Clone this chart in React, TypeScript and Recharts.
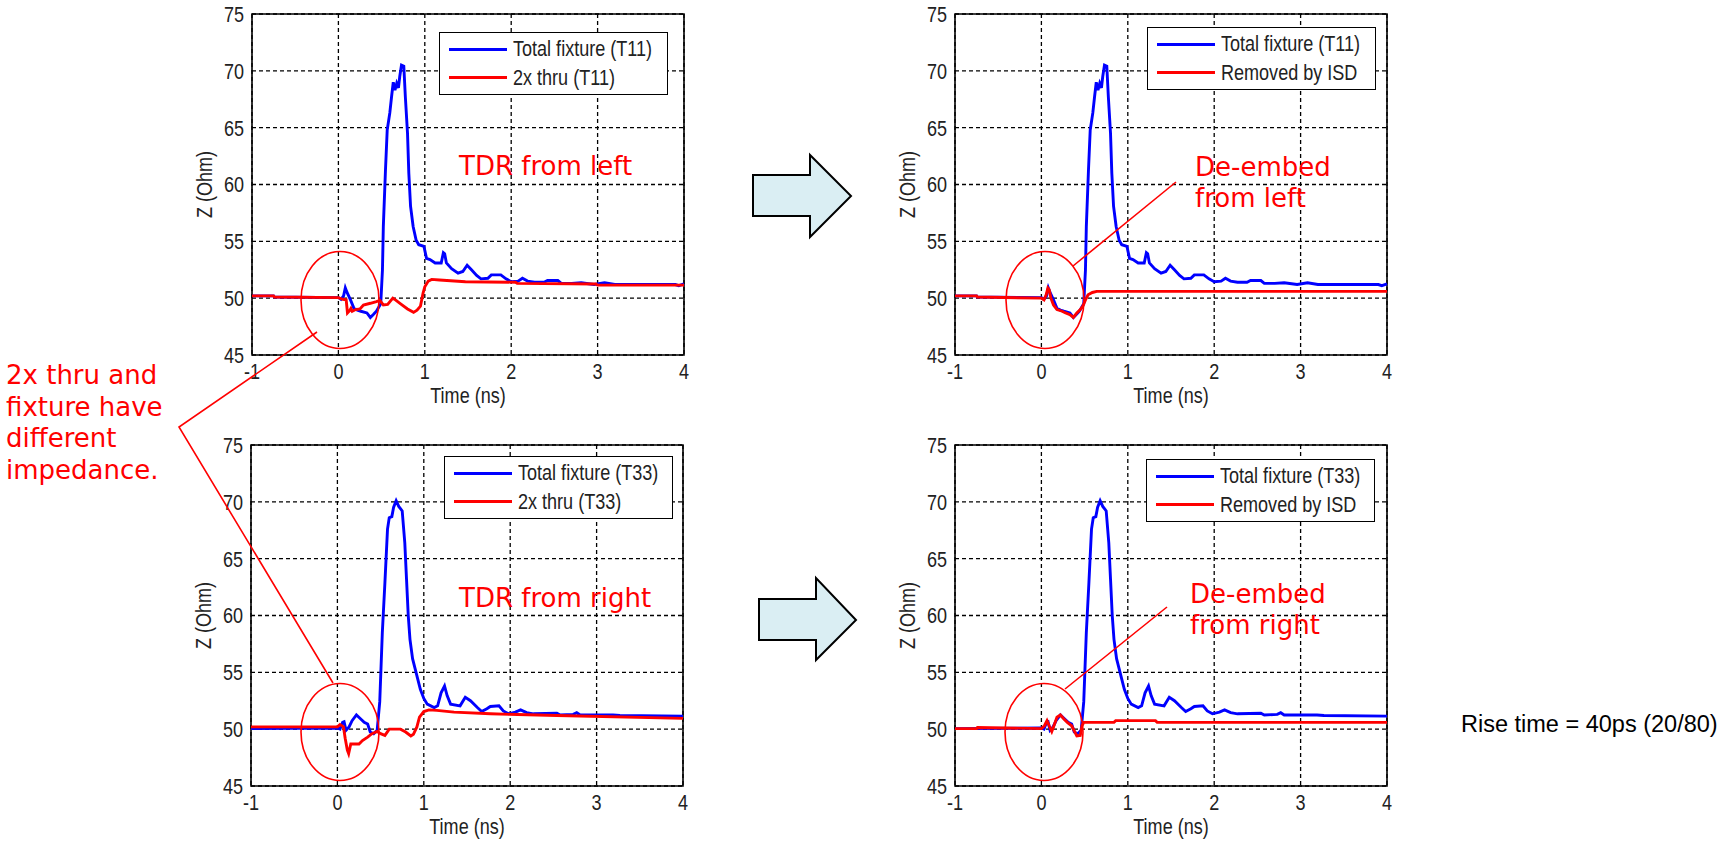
import { LineChart, Line, XAxis, YAxis, CartesianGrid, Legend, ReferenceArea } from "recharts";

// TDR traces: time in ns, impedance in Ohm
const fixtureT11Time = [-1, -0.75, -0.74, 0, 0.03, 0.06, 0.08, 0.1, 0.14, 0.18, 0.22, 0.26, 0.33, 0.37, 0.41, 0.44, 0.49, 0.51, 0.52, 0.545, 0.565, 0.595, 0.615, 0.635, 0.655, 0.675, 0.695, 0.71, 0.73, 0.757, 0.775, 0.8, 0.815, 0.835, 0.865, 0.9, 0.93, 0.99, 1.02, 1.06, 1.12, 1.19, 1.215, 1.23, 1.25, 1.31, 1.385, 1.44, 1.49, 1.54, 1.6, 1.65, 1.73, 1.77, 1.88, 1.94, 2.0, 2.08, 2.13, 2.19, 2.27, 2.38, 2.42, 2.54, 2.58, 2.7, 2.81, 2.96, 3.08, 3.2, 3.9, 3.94, 4.0];
const fixtureT11Z = [50.2, 50.2, 50.1, 50.05, 49.9, 50.2, 50.9, 50.5, 49.85, 49.1, 48.95, 48.85, 48.7, 48.3, 48.6, 48.85, 49.5, 52.5, 56.3, 61.3, 64.8, 66.3, 67.7, 69.0, 68.3, 68.9, 68.5, 69.5, 70.5, 70.4, 67.7, 64.5, 61.0, 58.1, 56.3, 55.1, 54.7, 54.55, 53.5, 53.4, 53.1, 53.1, 54.0, 53.9, 53.1, 52.6, 52.2, 52.35, 52.9, 52.5, 52.0, 51.7, 51.75, 52.05, 52.05, 51.7, 51.45, 51.5, 51.75, 51.5, 51.4, 51.4, 51.55, 51.55, 51.3, 51.3, 51.35, 51.2, 51.35, 51.2, 51.2, 51.1, 51.25];

const thruT11Time = [-1, -0.75, -0.74, 0, 0.05, 0.09, 0.105, 0.13, 0.145, 0.16, 0.2, 0.25, 0.29, 0.37, 0.44, 0.48, 0.52, 0.57, 0.63, 0.66, 0.72, 0.8, 0.87, 0.91, 0.95, 0.98, 1.0, 1.04, 1.08, 1.17, 1.47, 2.05, 2.07, 2.98, 3.0, 4.0];
const thruT11Z = [50.2, 50.2, 50.1, 50.05, 49.9, 49.85, 48.7, 48.9, 49.1, 48.85, 49.0, 49.05, 49.4, 49.55, 49.7, 49.8, 49.4, 49.45, 50.0, 49.85, 49.5, 49.05, 48.75, 48.95, 49.3, 50.45, 51.0, 51.5, 51.65, 51.6, 51.45, 51.4, 51.3, 51.25, 51.15, 51.15];

const isdT11Time = [-1, -0.75, -0.74, 0, 0.03, 0.055, 0.075, 0.09, 0.11, 0.14, 0.18, 0.24, 0.28, 0.33, 0.37, 0.41, 0.45, 0.48, 0.51, 0.54, 0.59, 0.64, 4.0];
const isdT11Z = [50.2, 50.2, 50.1, 50.0, 49.85, 50.3, 50.9, 50.75, 50.0, 49.4, 49.0, 48.85, 48.7, 48.55, 48.3, 48.7, 49.0, 49.3, 49.85, 50.3, 50.5, 50.6, 50.6];

const fixtureT33Time = [-1, 0, 0.03, 0.06, 0.077, 0.1, 0.135, 0.17, 0.22, 0.27, 0.31, 0.35, 0.38, 0.42, 0.46, 0.49, 0.52, 0.55, 0.58, 0.6, 0.63, 0.65, 0.68, 0.71, 0.75, 0.78, 0.8, 0.82, 0.84, 0.87, 0.9, 0.93, 0.96, 1.0, 1.04, 1.12, 1.16, 1.2, 1.24, 1.27, 1.31, 1.42, 1.48, 1.54, 1.62, 1.67, 1.73, 1.77, 1.87, 1.92, 1.98, 2.06, 2.12, 2.19, 2.27, 2.54, 2.58, 2.73, 2.77, 2.81, 3.19, 3.27, 4.0];
const fixtureT33Z = [50.05, 50.1, 50.0, 50.6, 50.65, 49.9, 50.2, 50.75, 51.25, 50.9, 50.6, 50.45, 49.75, 49.6, 49.9, 52.4, 58.5, 62.9, 67.6, 68.6, 68.7, 69.5, 70.1, 69.6, 69.2, 66.4, 63.2, 60.0, 57.9, 56.2, 55.3, 54.4, 53.5, 52.7, 52.2, 51.9, 52.05, 53.2, 53.8, 52.95, 52.2, 52.05, 52.8, 52.5, 51.9, 51.55, 51.8, 52.0, 52.05, 51.6, 51.35, 51.5, 51.7, 51.45, 51.35, 51.4, 51.25, 51.3, 51.45, 51.25, 51.25, 51.2, 51.15];

const thruT33Time = [-1, 0, 0.03, 0.07, 0.09, 0.115, 0.13, 0.155, 0.19, 0.25, 0.29, 0.35, 0.4, 0.46, 0.5, 0.55, 0.6, 0.73, 0.79, 0.85, 0.88, 0.92, 0.95, 1.0, 1.06, 1.15, 1.35, 1.77, 2.54, 4.0];
const thruT33Z = [50.2, 50.2, 50.4, 50.2, 49.2, 48.15, 47.85, 48.7, 48.7, 48.7, 49.0, 49.3, 49.6, 49.8, 49.6, 49.45, 50.0, 50.0, 49.75, 49.4, 49.55, 50.2, 51.05, 51.55, 51.7, 51.65, 51.5, 51.35, 51.2, 50.95];

const isdT33Time = [-1, -0.75, -0.74, 0, 0.035, 0.065, 0.09, 0.12, 0.14, 0.18, 0.22, 0.26, 0.3, 0.35, 0.38, 0.41, 0.45, 0.47, 0.49, 0.84, 0.86, 1.32, 1.34, 4.0];
const isdT33Z = [50.05, 50.05, 50.15, 50.05, 50.3, 50.75, 50.3, 49.8, 50.2, 51.05, 51.25, 50.9, 50.6, 50.3, 49.85, 49.4, 49.45, 50.3, 50.6, 50.6, 50.75, 50.75, 50.6, 50.6];

const timeTicks = [-1, 0, 1, 2, 3, 4];
const zTicks = [45, 50, 55, 60, 65, 70, 75];

const BLUE = "#0000ff";
const RED = "#ff0000";
const AXIS_FONT = "'Liberation Sans', Arial, sans-serif";
const NOTE_FONT = "'DejaVu Sans', Verdana, sans-serif";
const AXIS_SIZE = 22;
// the MATLAB export uses a narrow face, so squeeze the axis text sideways
const SQUEEZE = 0.82;

type Trace = { name: string; time: number[]; z: number[]; color: string };

const toPoints = (time: number[], z: number[]) => time.map((t, i) => ({ t, z: z[i] }));

function XTick({ x, y, payload }: any) {
  return (
    <text
      transform={`translate(${x},${y}) scale(${SQUEEZE},1)`}
      textAnchor="middle"
      dy="0.71em"
      fill="#222"
      fontSize={AXIS_SIZE}
      fontFamily={AXIS_FONT}
    >
      {payload.value}
    </text>
  );
}

function YTick({ x, y, payload }: any) {
  return (
    <text
      transform={`translate(${x},${y}) scale(${SQUEEZE},1)`}
      textAnchor="end"
      dy="0.36em"
      fill="#222"
      fontSize={AXIS_SIZE}
      fontFamily={AXIS_FONT}
    >
      {payload.value}
    </text>
  );
}

function TimeLabel({ viewBox }: any) {
  const cx = viewBox.x + viewBox.width / 2;
  const base = viewBox.y + viewBox.height;
  return (
    <text
      transform={`translate(${cx},${base}) scale(${SQUEEZE},1)`}
      textAnchor="middle"
      fill="#222"
      fontSize={AXIS_SIZE}
      fontFamily={AXIS_FONT}
    >
      Time (ns)
    </text>
  );
}

function ZLabel({ viewBox }: any) {
  const cx = viewBox.x + 34;
  const cy = viewBox.y + viewBox.height / 2;
  return (
    <text
      transform={`translate(${cx},${cy}) rotate(-90) scale(${SQUEEZE},1)`}
      textAnchor="middle"
      dy="0.36em"
      fill="#222"
      fontSize={AXIS_SIZE}
      fontFamily={AXIS_FONT}
    >
      Z (Ohm)
    </text>
  );
}

function makeLegend(order: string[]) {
  return function TraceLegend({ payload }: any) {
    const items = [...(payload || [])].sort(
      (a: any, b: any) => order.indexOf(a.value) - order.indexOf(b.value)
    );
    return (
      <div
        style={{
          boxSizing: "border-box",
          width: "100%",
          height: "100%",
          border: "1.5px solid #000",
          background: "#fff",
          paddingTop: 2,
        }}
      >
        {items.map((entry: any) => (
          <div key={entry.value} style={{ display: "flex", alignItems: "center", height: 28.5 }}>
            <span
              style={{
                display: "inline-block",
                flex: "none",
                width: 58,
                height: 3,
                marginLeft: 9,
                marginRight: 6,
                background: entry.color,
              }}
            />
            <span
              style={{
                fontFamily: AXIS_FONT,
                fontSize: AXIS_SIZE,
                color: "#222",
                lineHeight: 1,
                whiteSpace: "nowrap",
                display: "inline-block",
                transform: `scaleX(${SQUEEZE})`,
                transformOrigin: "left center",
              }}
            >
              {entry.value}
            </span>
          </div>
        ))}
      </div>
    );
  };
}

type PanelProps = {
  left: number;
  top: number;
  traces: Trace[];
  legendLeft: number;
  legendTop: number;
};

function TdrPanel({ left, top, traces, legendLeft, legendTop }: PanelProps) {
  const legendContent = makeLegend(traces.map((tr) => tr.name));
  return (
    <div style={{ position: "absolute", left, top }}>
      <LineChart width={522} height={420} margin={{ top: 14, right: 8, bottom: 17, left: 0 }}>
        <CartesianGrid stroke="#000" strokeDasharray="4 3" strokeWidth={1.3} />
        <XAxis
          type="number"
          dataKey="t"
          domain={[-1, 4]}
          ticks={timeTicks}
          height={48}
          tickLine={false}
          axisLine={false}
          tick={<XTick />}
          label={<TimeLabel />}
        />
        <YAxis
          type="number"
          dataKey="z"
          domain={[45, 75]}
          ticks={zTicks}
          width={82}
          tickLine={false}
          axisLine={false}
          tick={<YTick />}
          label={<ZLabel />}
        />
        <ReferenceArea x1={-1} x2={4} y1={45} y2={75} fill="none" stroke="#000" strokeWidth={1.6} />
        {traces.map((tr) => (
          <Line
            key={tr.name}
            data={toPoints(tr.time, tr.z)}
            dataKey="z"
            name={tr.name}
            type="linear"
            stroke={tr.color}
            strokeWidth={2.9}
            dot={false}
            activeDot={false}
            isAnimationActive={false}
          />
        ))}
        <Legend
          layout="vertical"
          align="center"
          verticalAlign="middle"
          wrapperStyle={{ left: legendLeft, top: legendTop, width: 229, height: 63 }}
          content={legendContent}
        />
      </LineChart>
    </div>
  );
}

export default function App() {
  return (
    <div
      style={{
        position: "absolute",
        left: 0,
        top: 0,
        width: 1723,
        height: 842,
        background: "#fff",
        overflow: "hidden",
      }}
    >
      <TdrPanel
        left={170}
        top={0}
        legendLeft={269}
        legendTop={32}
        traces={[
          { name: "Total fixture (T11)", time: fixtureT11Time, z: fixtureT11Z, color: BLUE },
          { name: "2x thru (T11)", time: thruT11Time, z: thruT11Z, color: RED },
        ]}
      />
      <TdrPanel
        left={873}
        top={0}
        legendLeft={274}
        legendTop={27}
        traces={[
          { name: "Total fixture (T11)", time: fixtureT11Time, z: fixtureT11Z, color: BLUE },
          { name: "Removed by ISD", time: isdT11Time, z: isdT11Z, color: RED },
        ]}
      />
      <TdrPanel
        left={169}
        top={431}
        legendLeft={275}
        legendTop={25}
        traces={[
          { name: "Total fixture (T33)", time: fixtureT33Time, z: fixtureT33Z, color: BLUE },
          { name: "2x thru (T33)", time: thruT33Time, z: thruT33Z, color: RED },
        ]}
      />
      <TdrPanel
        left={873}
        top={431}
        legendLeft={273}
        legendTop={28}
        traces={[
          { name: "Total fixture (T33)", time: fixtureT33Time, z: fixtureT33Z, color: BLUE },
          { name: "Removed by ISD", time: isdT33Time, z: isdT33Z, color: RED },
        ]}
      />

      {/* slide annotations on top of the plots */}
      <svg
        width={1723}
        height={842}
        style={{ position: "absolute", left: 0, top: 0, pointerEvents: "none" }}
      >
        <g fill="none" stroke={RED} strokeWidth={1.6}>
          <ellipse cx={340} cy={300} rx={39} ry={48.5} />
          <ellipse cx={1045} cy={300} rx={39} ry={48.5} />
          <ellipse cx={340} cy={732} rx={39} ry={48.5} />
          <ellipse cx={1044} cy={732} rx={39} ry={48.5} />
          <polyline points="317,332 179,427 333,683" />
          <line x1={1176} y1={182} x2={1073} y2={266} />
          <line x1={1167} y1={607} x2={1065} y2={689} />
        </g>
        <g fill="#daeef3" stroke="#000" strokeWidth={2}>
          <polygon points="753,175 810,175 810,155 851,196 810,237 810,216 753,216" />
          <polygon points="759,599 816,599 816,578 856,620 816,660 816,640 759,640" />
        </g>
        <g fill={RED} fontFamily={NOTE_FONT} fontSize={26}>
          <text x={459} y={175}>TDR from left</text>
          <text x={459} y={607}>TDR from right</text>
          <text x={1195} y={176}>De-embed</text>
          <text x={1195} y={207}>from left</text>
          <text x={1190} y={603}>De-embed</text>
          <text x={1190} y={634}>from right</text>
          <text x={6} y={384}>2x thru and</text>
          <text x={6} y={415.5}>fixture have</text>
          <text x={6} y={447}>different</text>
          <text x={6} y={478.5}>impedance.</text>
        </g>
        <text x={1461} y={732} fill="#000" fontFamily="'Liberation Sans', Arial, sans-serif" fontSize={23.5}>
          Rise time = 40ps (20/80)
        </text>
      </svg>
    </div>
  );
}
